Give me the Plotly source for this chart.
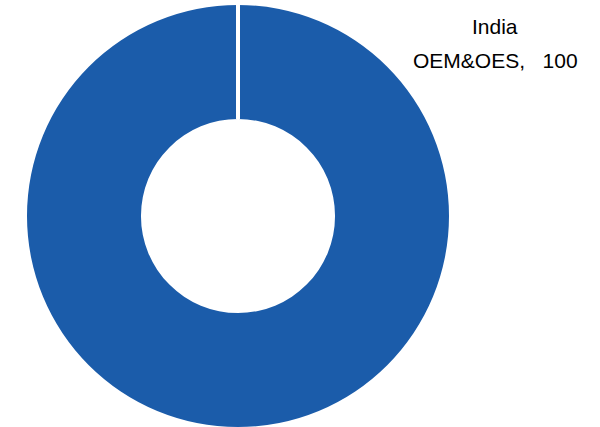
import plotly.graph_objects as go

labels = ["India OEM&OES"]
values = [100]
label_lines = ["India", "OEM&OES,\u00a0\u00a0\u00a0100"]

W, H = 600, 427
cx, cy, R, r = 238, 216, 211, 97

fig = go.Figure(go.Pie(
    labels=labels, values=values, hole=r / R, sort=False,
    marker=dict(colors=["#1b5caa"], line=dict(color="white", width=0)),
    textinfo="none", hoverinfo="label+value", showlegend=False,
    domain=dict(x=[(cx - R) / W, (cx + R) / W], y=[(H - cy - R) / H, (H - cy + R) / H]),
))

fig.add_shape(type="line", xref="paper", yref="paper",
              x0=cx / W, x1=cx / W, y0=(H - cy + r) / H, y1=1,
              line=dict(color="white", width=4))

for line, ymid in zip(label_lines, [27, 60]):
    fig.add_annotation(text=line, xref="paper", yref="paper",
                       x=495 / W, y=(H - ymid) / H, showarrow=False,
                       font=dict(family="Liberation Sans, Arial", size=21, color="#000000"),
                       align="center", xanchor="center", yanchor="middle")

fig.update_layout(width=W, height=H, margin=dict(l=0, r=0, t=0, b=0),
                  paper_bgcolor="white", plot_bgcolor="white")
fig.write_html("out.html", config={"displayModeBar": False},
               post_script="document.body.style.margin='0';")
